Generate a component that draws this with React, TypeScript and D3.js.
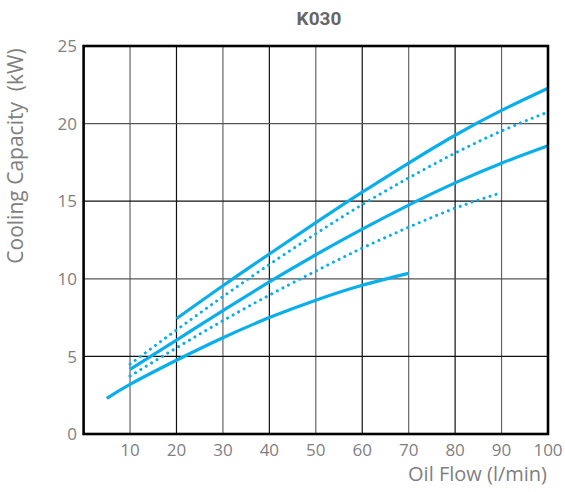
import React from "react";
import * as d3 from "d3";

// Oil flow (l/min) vs cooling capacity (kW) for model K030
const title = "K030";
const xTicks = [10, 20, 30, 40, 50, 60, 70, 80, 90, 100];
const yTicks = [0, 5, 10, 15, 20, 25];

const topSolidX = [20, 30, 40, 50, 60, 70, 80, 90, 100];
const topSolidY = [7.43, 9.55, 11.6, 13.62, 15.58, 17.46, 19.25, 20.85, 22.28];

const upperDottedX = [10, 20, 30, 40, 50, 60, 70, 80, 90, 100];
const upperDottedY = [4.5, 6.7, 8.85, 10.92, 12.9, 14.78, 16.5, 18.1, 19.52, 20.75];

const middleSolidX = [10, 20, 30, 40, 50, 60, 70, 80, 90, 100];
const middleSolidY = [4.16, 6.05, 7.95, 9.8, 11.55, 13.2, 14.75, 16.18, 17.45, 18.57];

const lowerDottedX = [10, 20, 30, 40, 50, 60, 70, 80, 90];
const lowerDottedY = [3.73, 5.55, 7.3, 8.95, 10.5, 11.98, 13.32, 14.55, 15.55];

const bottomSolidX = [5, 10, 20, 30, 40, 50, 60, 70];
const bottomSolidY = [2.3, 3.2, 4.75, 6.2, 7.5, 8.62, 9.58, 10.35];

const series = [
  { xs: topSolidX, ys: topSolidY, dotted: false },
  { xs: upperDottedX, ys: upperDottedY, dotted: true },
  { xs: middleSolidX, ys: middleSolidY, dotted: false },
  { xs: lowerDottedX, ys: lowerDottedY, dotted: true },
  { xs: bottomSolidX, ys: bottomSolidY, dotted: false },
];

const W = 565;
const H = 492;
const LINE = "#0aaeea";
const TEXT = "#7f7f7f";
const FONT = "'Open Sans', 'Noto Sans', sans-serif";

export default function App() {
  const x = d3.scaleLinear().domain([0, 100]).range([83.6, 548]);
  const y = d3.scaleLinear().domain([0, 25]).range([434, 46]);
  const line = d3
    .line<[number, number]>()
    .x((d) => x(d[0]))
    .y((d) => y(d[1]))
    .curve(d3.curveNatural);

  return (
    <svg
      width={W}
      height={H}
      style={{ position: "absolute", left: 0, top: 0, background: "#fff" }}
    >
      {/* grid */}
      {xTicks.slice(0, -1).map((t, i) => (
        <line
          key={"gx" + t}
          x1={x(t)}
          x2={x(t)}
          y1={y(25)}
          y2={y(0)}
          stroke={i % 2 === 0 ? "#666" : "#111"}
          strokeWidth={1.2}
        />
      ))}
      {yTicks.slice(1, -1).map((t, i) => (
        <line
          key={"gy" + t}
          x1={x(0)}
          x2={x(100)}
          y1={y(t)}
          y2={y(t)}
          stroke={i % 2 === 0 ? "#111" : "#555"}
          strokeWidth={1.2}
        />
      ))}

      {/* curves */}
      {series.map((s, i) => (
        <path
          key={i}
          d={line(s.xs.map((v, j) => [v, s.ys[j]] as [number, number])) || ""}
          fill="none"
          stroke={LINE}
          strokeWidth={s.dotted ? 3 : 3.2}
          strokeDasharray={s.dotted ? "0.1 6.2" : undefined}
          strokeLinecap={s.dotted ? "round" : "butt"}
        />
      ))}

      {/* frame */}
      <rect
        x={x(0)}
        y={y(25)}
        width={x(100) - x(0)}
        height={y(0) - y(25)}
        fill="none"
        stroke="#000"
        strokeWidth={2.6}
      />

      {/* x tick labels */}
      {xTicks.map((t) => (
        <text
          key={"xt" + t}
          x={x(t)}
          y={456}
          textAnchor="middle"
          fontFamily={FONT}
          fontSize={17}
          fill={TEXT}
        >
          {t}
        </text>
      ))}

      {/* y tick labels */}
      {yTicks.map((t) => (
        <text
          key={"yt" + t}
          x={77}
          y={y(t)}
          dy="0.36em"
          textAnchor="end"
          fontFamily={FONT}
          fontSize={17}
          fill={TEXT}
        >
          {t}
        </text>
      ))}

      {/* titles */}
      <text
        x={319}
        y={25}
        textAnchor="middle"
        fontFamily="Roboto, sans-serif"
        fontWeight="bold"
        fontSize={19}
        fill="#666"
      >
        {title}
      </text>
      <text
        x={547}
        y={481}
        textAnchor="end"
        fontFamily={FONT}
        fontSize={20}
        fill={TEXT}
      >
        Oil Flow (l/min)
      </text>
      <text
        transform={`translate(22.5, 156) rotate(-90)`}
        textAnchor="middle"
        fontFamily={FONT}
        fontSize={21}
        fill={TEXT}
        style={{ whiteSpace: "pre" }}
      >
        {"Cooling Capacity  (kW)"}
      </text>
    </svg>
  );
}
